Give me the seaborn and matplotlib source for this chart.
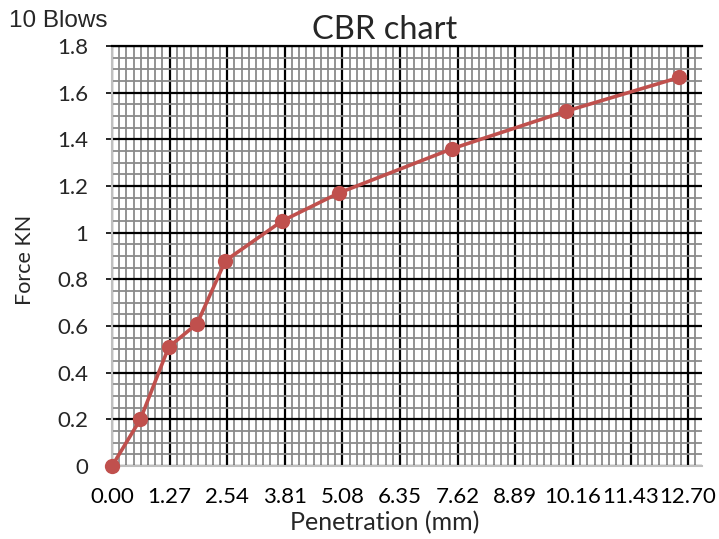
import pandas as pd
import seaborn as sns
import matplotlib.pyplot as plt
from matplotlib.ticker import MultipleLocator, FuncFormatter

# CBR test readings (10 blows)
penetration = [0.0, 0.625, 1.25, 1.875, 2.5, 3.75, 5.0, 7.5, 10.0, 12.5]
force = [0.0, 0.20, 0.51, 0.61, 0.88, 1.05, 1.17, 1.36, 1.52, 1.665]
x_ticks = [0.00, 1.27, 2.54, 3.81, 5.08, 6.35, 7.62, 8.89, 10.16, 11.43, 12.70]

df = pd.DataFrame({'penetration': penetration, 'force': force})

sns.set_theme(style="white")
plt.rcParams['font.family'] = ['Lato', 'DejaVu Sans']

red = "#c0504d"

fig = plt.figure(figsize=(7.19, 5.39), dpi=100)
ax = fig.add_axes([0.1558, 0.1354, 0.8202, 0.7793])

sns.lineplot(ax=ax, data=df, x='penetration', y='force', color=red,
             linewidth=2.6, marker='o', markersize=11, markeredgewidth=0,
             zorder=3, clip_on=False)

ax.set_xlim(0, 13.0)
ax.set_ylim(0, 1.8)
ax.set_xticks(x_ticks)
ax.xaxis.set_minor_locator(MultipleLocator(1.27 / 8))
ax.yaxis.set_major_locator(MultipleLocator(0.2))
ax.yaxis.set_minor_locator(MultipleLocator(0.05))
ax.xaxis.set_major_formatter(FuncFormatter(lambda v, p: f"{v:.2f}"))
ax.yaxis.set_major_formatter(FuncFormatter(lambda v, p: f"{v:g}"))

ax.set_axisbelow(True)
ax.grid(which='minor', color='#8a8a8a', linewidth=1.3)
ax.grid(which='major', color='black', linewidth=1.6)

ax.spines['right'].set_visible(False)
ax.spines['top'].set_color('black')
ax.spines['top'].set_linewidth(1.6)
for side in ['left', 'bottom']:
    ax.spines[side].set_color('#bfbfbf')
    ax.spines[side].set_linewidth(1.5)

ax.tick_params(axis='x', which='both', length=0, labelsize=16, pad=15, colors='black')
ax.tick_params(axis='y', which='major', length=4, width=1.2, color='black',
               labelsize=16, pad=13, left=True)
ax.tick_params(axis='y', which='minor', length=0)

# labels are centred on the chart area, not the plot area (Excel style)
ax.set_xlabel('Penetration (mm)', fontsize=18, va='center')
ax.xaxis.set_label_coords(0.4627, -0.136)
ax.set_ylabel('Force KN', fontsize=15.5, va='center')
ax.yaxis.set_label_coords(-0.148, 0.4917)

fig.text(0.5355, 0.9276, 'CBR chart', fontsize=23.5, ha='center', va='baseline')
fig.text(0.012, 0.95, '10 Blows', fontsize=17.5, family=['Liberation Sans', 'DejaVu Sans'],
         ha='left', va='baseline')

fig.savefig('out.png', dpi=100)
